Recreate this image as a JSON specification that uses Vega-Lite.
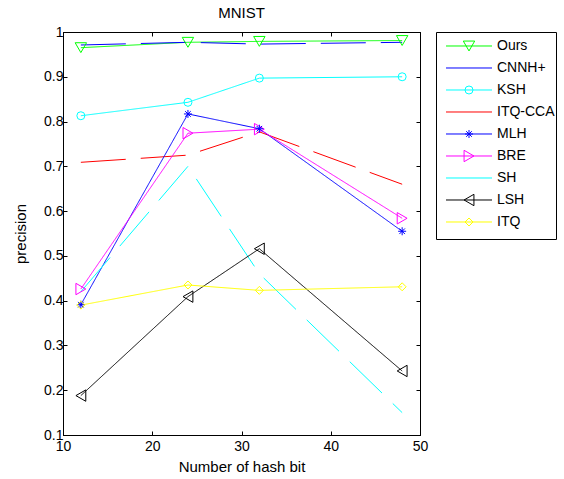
{
  "$schema": "https://vega.github.io/schema/vega-lite/v6.json",
  "background": "white",
  "padding": {"left": 13, "top": 5, "right": 5, "bottom": 5},
  "bounds": "flush",
  "spacing": 16,
  "config": {
    "font": "Liberation Sans",
    "view": {"stroke": "black", "strokeWidth": 1},
    "axis": {"grid": false, "domainColor": "black", "domainWidth": 1, "tickColor": "black", "labelColor": "black", "titleColor": "black", "labelFontSize": 14, "titleFontSize": 15, "titleFontWeight": "normal", "labelFont": "Liberation Sans", "titleFont": "Liberation Sans"},
    "title": {"fontSize": 15, "fontWeight": "normal", "font": "Liberation Sans", "color": "black"}
  },
  "datasets": {
    "main": [
      {"series": "Ours", "bits": 12, "precision": 0.965},
      {"series": "Ours", "bits": 24, "precision": 0.977},
      {"series": "Ours", "bits": 32, "precision": 0.979},
      {"series": "Ours", "bits": 48, "precision": 0.981},
      {"series": "CNNH+", "bits": 12, "precision": 0.971},
      {"series": "CNNH+", "bits": 24, "precision": 0.977},
      {"series": "CNNH+", "bits": 32, "precision": 0.973},
      {"series": "CNNH+", "bits": 48, "precision": 0.977},
      {"series": "KSH", "bits": 12, "precision": 0.813},
      {"series": "KSH", "bits": 24, "precision": 0.843},
      {"series": "KSH", "bits": 32, "precision": 0.897},
      {"series": "KSH", "bits": 48, "precision": 0.9},
      {"series": "ITQ-CCA", "bits": 12, "precision": 0.709},
      {"series": "ITQ-CCA", "bits": 24, "precision": 0.725},
      {"series": "ITQ-CCA", "bits": 32, "precision": 0.777},
      {"series": "ITQ-CCA", "bits": 48, "precision": 0.66},
      {"series": "MLH", "bits": 12, "precision": 0.391},
      {"series": "MLH", "bits": 24, "precision": 0.817},
      {"series": "MLH", "bits": 32, "precision": 0.784},
      {"series": "MLH", "bits": 48, "precision": 0.555},
      {"series": "BRE", "bits": 12, "precision": 0.426},
      {"series": "BRE", "bits": 24, "precision": 0.774},
      {"series": "BRE", "bits": 32, "precision": 0.783},
      {"series": "BRE", "bits": 48, "precision": 0.584},
      {"series": "SH", "bits": 12, "precision": 0.42},
      {"series": "SH", "bits": 24, "precision": 0.7},
      {"series": "SH", "bits": 32, "precision": 0.46},
      {"series": "SH", "bits": 48, "precision": 0.15},
      {"series": "LSH", "bits": 12, "precision": 0.188},
      {"series": "LSH", "bits": 24, "precision": 0.409},
      {"series": "LSH", "bits": 32, "precision": 0.516},
      {"series": "LSH", "bits": 48, "precision": 0.243},
      {"series": "ITQ", "bits": 12, "precision": 0.39},
      {"series": "ITQ", "bits": 24, "precision": 0.435},
      {"series": "ITQ", "bits": 32, "precision": 0.423},
      {"series": "ITQ", "bits": 48, "precision": 0.431}
    ],
    "legend": [
      {"series": "Ours", "order": 1},
      {"series": "CNNH+", "order": 2},
      {"series": "KSH", "order": 3},
      {"series": "ITQ-CCA", "order": 4},
      {"series": "MLH", "order": 5},
      {"series": "BRE", "order": 6},
      {"series": "SH", "order": 7},
      {"series": "LSH", "order": 8},
      {"series": "ITQ", "order": 9}
    ]
  },
  "hconcat": [
    {
      "width": 357,
      "height": 403,
      "title": {"text": "MNIST", "offset": 4},
      "data": {"name": "main"},
      "resolve": {"axis": {"x": "independent", "y": "independent"}},
      "layer": [
        {
          "mark": {"type": "line", "strokeWidth": 1},
          "encoding": {
            "x": {"field": "bits", "type": "quantitative", "scale": {"domain": [10, 50], "nice": false, "zero": false},
              "axis": {"orient": "bottom", "values": [10, 20, 30, 40, 50], "tickSize": -4, "labelPadding": 8, "title": "Number of hash bit", "titlePadding": 6, "labelFlush": false}},
            "y": {"field": "precision", "type": "quantitative", "scale": {"domain": [0.1, 1], "nice": false, "zero": false},
              "axis": {"orient": "left", "values": [0.1, 0.2, 0.3, 0.4, 0.5, 0.6, 0.7, 0.8, 0.9, 1], "format": "~g", "tickSize": -4, "labelPadding": 4, "title": "precision", "titlePadding": 15, "labelFlush": false}},
            "color": {"field": "series", "type": "nominal",
              "scale": {"domain": ["Ours", "CNNH+", "KSH", "ITQ-CCA", "MLH", "BRE", "SH", "LSH", "ITQ"], "range": ["#00ff00", "#0000ff", "#00ffff", "#ff0000", "#0000ff", "#ff00ff", "#00ffff", "#000000", "#ffff00"]}, "legend": null},
            "strokeDash": {"field": "series", "type": "nominal",
              "scale": {"domain": ["Ours", "CNNH+", "KSH", "ITQ-CCA", "MLH", "BRE", "SH", "LSH", "ITQ"], "range": [[1, 0], [45, 15], [1, 0], [45, 15], [1, 0], [1, 0], [45, 15], [1, 0], [1, 0]]}, "legend": null}
          }
        },
        {
          "transform": [{"filter": {"field": "series", "oneOf": ["Ours", "BRE", "LSH"]}}],
          "mark": {"type": "point", "filled": false, "strokeWidth": 1, "opacity": 1, "size": 130},
          "encoding": {
            "x": {"field": "bits", "type": "quantitative", "axis": null},
            "y": {"field": "precision", "type": "quantitative", "axis": null},
            "color": {"field": "series", "type": "nominal",
              "scale": {"domain": ["Ours", "CNNH+", "KSH", "ITQ-CCA", "MLH", "BRE", "SH", "LSH", "ITQ"], "range": ["#00ff00", "#0000ff", "#00ffff", "#ff0000", "#0000ff", "#ff00ff", "#00ffff", "#000000", "#ffff00"]}, "legend": null},
            "shape": {"field": "series", "type": "nominal",
              "scale": {"domain": ["Ours", "KSH", "MLH", "BRE", "LSH", "ITQ"], "range": ["triangle-down", "circle", "M-1,0L1,0M0,-1L0,1M-0.7,-0.7L0.7,0.7M-0.7,0.7L0.7,-0.7", "triangle-right", "triangle-left", "diamond"]}, "legend": null}
          }
        },
        {
          "transform": [{"filter": {"field": "series", "oneOf": ["KSH", "MLH", "ITQ"]}}],
          "mark": {"type": "point", "filled": false, "strokeWidth": 1, "opacity": 1, "size": 64},
          "encoding": {
            "x": {"field": "bits", "type": "quantitative", "axis": null},
            "y": {"field": "precision", "type": "quantitative", "axis": null},
            "color": {"field": "series", "type": "nominal",
              "scale": {"domain": ["Ours", "CNNH+", "KSH", "ITQ-CCA", "MLH", "BRE", "SH", "LSH", "ITQ"], "range": ["#00ff00", "#0000ff", "#00ffff", "#ff0000", "#0000ff", "#ff00ff", "#00ffff", "#000000", "#ffff00"]}, "legend": null},
            "shape": {"field": "series", "type": "nominal",
              "scale": {"domain": ["Ours", "KSH", "MLH", "BRE", "LSH", "ITQ"], "range": ["triangle-down", "circle", "M-1,0L1,0M0,-1L0,1M-0.7,-0.7L0.7,0.7M-0.7,0.7L0.7,-0.7", "triangle-right", "triangle-left", "diamond"]}, "legend": null}
          }
        },
        {
          "mark": {"type": "point", "opacity": 0},
          "encoding": {
            "x": {"field": "bits", "type": "quantitative", "axis": {"orient": "top", "values": [10, 20, 30, 40, 50], "tickSize": -4, "labels": false, "title": null}},
            "y": {"field": "precision", "type": "quantitative", "axis": {"orient": "right", "values": [0.1, 0.2, 0.3, 0.4, 0.5, 0.6, 0.7, 0.8, 0.9, 1], "tickSize": -4, "labels": false, "title": null}}
          }
        }
      ]
    },
    {
      "width": 120,
      "height": 207,
      "data": {"name": "legend"},
      "layer": [
        {
          "mark": {"type": "rule", "strokeWidth": 1},
          "encoding": {
            "x": {"datum": 10, "type": "quantitative", "scale": {"domain": [0, 120], "nice": false, "zero": false}, "axis": null},
            "x2": {"datum": 56},
            "y": {"field": "order", "type": "quantitative", "scale": {"domain": [0.364, 9.773], "reverse": true, "nice": false, "zero": false}, "axis": null},
            "color": {"field": "series", "type": "nominal",
              "scale": {"domain": ["Ours", "CNNH+", "KSH", "ITQ-CCA", "MLH", "BRE", "SH", "LSH", "ITQ"], "range": ["#00ff00", "#0000ff", "#00ffff", "#ff0000", "#0000ff", "#ff00ff", "#00ffff", "#000000", "#ffff00"]}, "legend": null}
          }
        },
        {
          "transform": [{"filter": {"field": "series", "oneOf": ["Ours", "BRE", "LSH"]}}],
          "mark": {"type": "point", "filled": false, "strokeWidth": 1, "opacity": 1, "size": 130},
          "encoding": {
            "x": {"datum": 33, "type": "quantitative"},
            "y": {"field": "order", "type": "quantitative"},
            "color": {"field": "series", "type": "nominal",
              "scale": {"domain": ["Ours", "CNNH+", "KSH", "ITQ-CCA", "MLH", "BRE", "SH", "LSH", "ITQ"], "range": ["#00ff00", "#0000ff", "#00ffff", "#ff0000", "#0000ff", "#ff00ff", "#00ffff", "#000000", "#ffff00"]}, "legend": null},
            "shape": {"field": "series", "type": "nominal",
              "scale": {"domain": ["Ours", "KSH", "MLH", "BRE", "LSH", "ITQ"], "range": ["triangle-down", "circle", "M-1,0L1,0M0,-1L0,1M-0.7,-0.7L0.7,0.7M-0.7,0.7L0.7,-0.7", "triangle-right", "triangle-left", "diamond"]}, "legend": null}
          }
        },
        {
          "transform": [{"filter": {"field": "series", "oneOf": ["KSH", "MLH", "ITQ"]}}],
          "mark": {"type": "point", "filled": false, "strokeWidth": 1, "opacity": 1, "size": 64},
          "encoding": {
            "x": {"datum": 33, "type": "quantitative"},
            "y": {"field": "order", "type": "quantitative"},
            "color": {"field": "series", "type": "nominal",
              "scale": {"domain": ["Ours", "CNNH+", "KSH", "ITQ-CCA", "MLH", "BRE", "SH", "LSH", "ITQ"], "range": ["#00ff00", "#0000ff", "#00ffff", "#ff0000", "#0000ff", "#ff00ff", "#00ffff", "#000000", "#ffff00"]}, "legend": null},
            "shape": {"field": "series", "type": "nominal",
              "scale": {"domain": ["Ours", "KSH", "MLH", "BRE", "LSH", "ITQ"], "range": ["triangle-down", "circle", "M-1,0L1,0M0,-1L0,1M-0.7,-0.7L0.7,0.7M-0.7,0.7L0.7,-0.7", "triangle-right", "triangle-left", "diamond"]}, "legend": null}
          }
        },
        {
          "mark": {"type": "text", "align": "left", "baseline": "middle", "fontSize": 14, "font": "Liberation Sans", "color": "black"},
          "encoding": {
            "x": {"datum": 61, "type": "quantitative"},
            "y": {"field": "order", "type": "quantitative"},
            "text": {"field": "series"}
          }
        }
      ]
    }
  ]
}
